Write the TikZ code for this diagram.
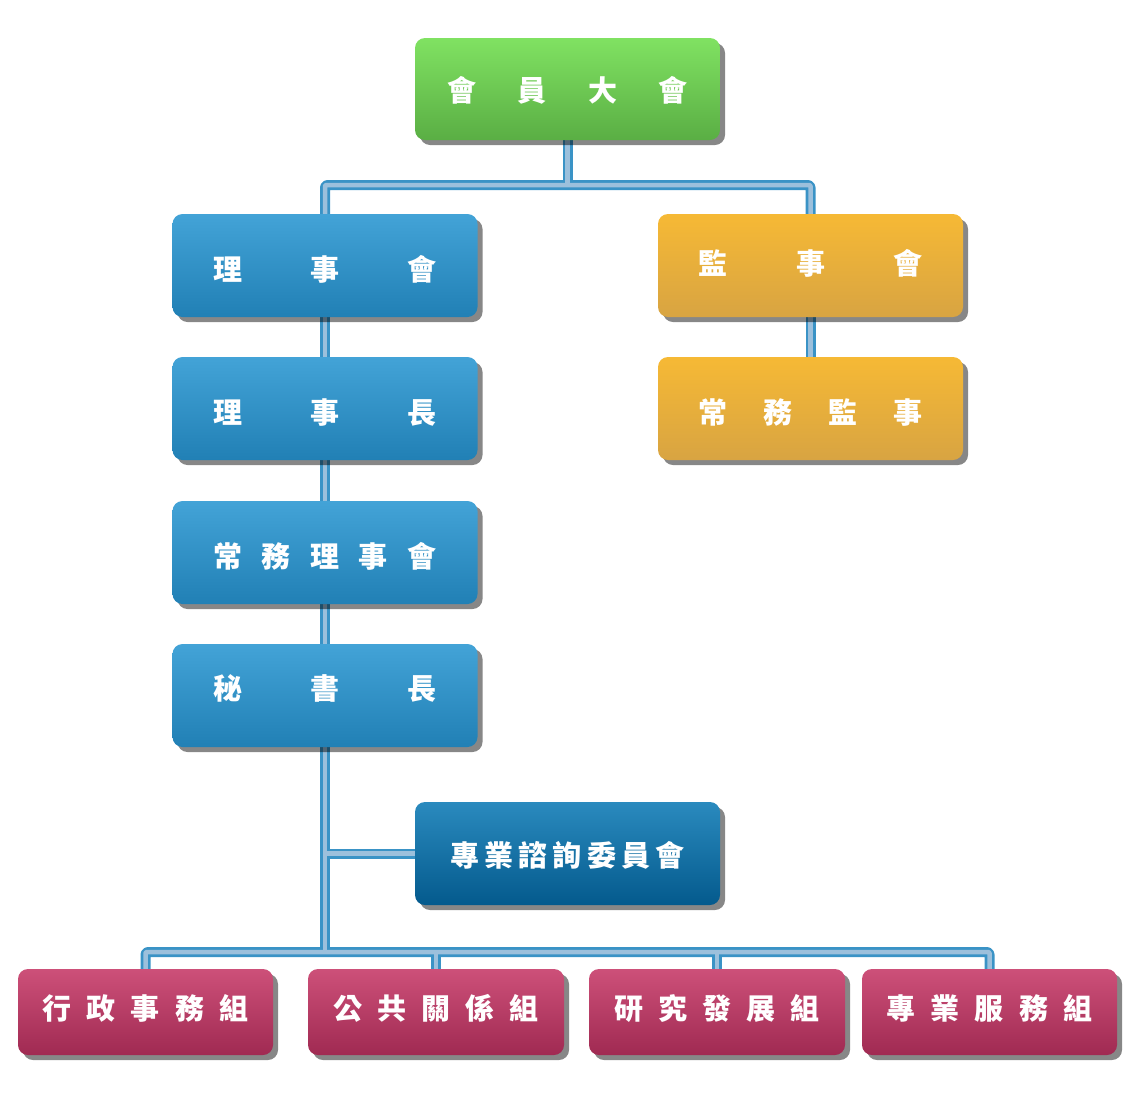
\documentclass[tikz,border=0pt]{standalone}
\usepackage{fontspec}
\setmainfont{Noto Sans CJK TC}
\usetikzlibrary{shadows}
\pgfdeclarelayer{background}
\pgfsetlayers{background,main}
\definecolor{gtop}{HTML}{80E262}
\definecolor{gbot}{HTML}{5AAE44}
\definecolor{btop}{HTML}{43A3D7}
\definecolor{bbot}{HTML}{2180B5}
\definecolor{otop}{HTML}{F6B935}
\definecolor{obot}{HTML}{D8A442}
\definecolor{dtop}{HTML}{2A8ABE}
\definecolor{dbot}{HTML}{045A8D}
\definecolor{ptop}{HTML}{CD5079}
\definecolor{pbot}{HTML}{A02A52}
\definecolor{lnout}{HTML}{3A93C6}
\definecolor{lnin}{HTML}{9CC0DC}
\newcommand\spr[2]{\makebox[#1pt]{#2}}
\tikzset{
  box/.style={rounded corners=10pt, inner sep=0pt, text=white,
    font=\fontsize{29}{29}\selectfont\bfseries, text depth=0pt,
    drop shadow={shadow xshift=5pt, shadow yshift=-5pt, fill=black, opacity=0.47}},
  th/.style={text height=#1pt},
  bigbox/.style={box, minimum width=305pt, minimum height=103pt},
  grpbox/.style={box, minimum width=255pt, minimum height=86pt, shading=axis, top color=ptop, bottom color=pbot, th=14},
  greenbox/.style={bigbox, top color=gtop, bottom color=gbot},
  bluebox/.style={bigbox, top color=btop, bottom color=bbot},
  orangebox/.style={bigbox, top color=otop, bottom color=obot},
  darkbox/.style={bigbox, top color=dtop, bottom color=dbot},
  connout/.style={draw=lnout, line width=10pt, rounded corners=2.5pt, line join=round},
  connin/.style={draw=lnin, line width=4.5pt, rounded corners=1pt, line join=round},
}
\begin{document}
\begin{tikzpicture}[x=1pt,y=-1pt]
\useasboundingbox (0,0) rectangle (1136,1101);
\node[greenbox, minimum height=102pt, th=24] (top) at (567.5,89) {\spr{240}{會\hfill 員\hfill 大\hfill 會}};
\node[bluebox, th=29] (l1) at (325,265.5) {\spr{223}{理\hfill 事\hfill 會}};
\node[orangebox, th=17] (r1) at (810.5,265.5) {\spr{224}{監\hfill 事\hfill 會}};
\node[bluebox, th=29] (l2) at (325,408.5) {\spr{223}{理\hfill 事\hfill 長}};
\node[orangebox, th=29] (r2) at (810.5,408.5) {\spr{224}{常\hfill 務\hfill 監\hfill 事}};
\node[bluebox, th=29] (l3) at (325,552.5) {\spr{223}{常\hfill 務\hfill 理\hfill 事\hfill 會}};
\node[bluebox, th=7] (l4) at (325,695.5) {\spr{223}{秘\hfill 書\hfill 長}};
\node[darkbox, th=25] (adv) at (567.5,853.5) {\spr{235}{專\hfill 業\hfill 諮\hfill 詢\hfill 委\hfill 員\hfill 會}};
\node[grpbox] (g1) at (145.5,1012) {\spr{206}{行\hfill 政\hfill 事\hfill 務\hfill 組}};
\node[grpbox, minimum width=256pt] (g2) at (436,1012) {\spr{206}{公\hfill 共\hfill 關\hfill 係\hfill 組}};
\node[grpbox, minimum width=256pt] (g3) at (717,1012) {\spr{206}{研\hfill 究\hfill 發\hfill 展\hfill 組}};
\node[grpbox] (g4) at (989.5,1012) {\spr{206}{專\hfill 業\hfill 服\hfill 務\hfill 組}};
\coordinate (j1) at (568,185);
\coordinate (j2) at (568,952);
\begin{pgfonlayer}{background}
\foreach \ly in {connout,connin}{
  \draw[\ly] (top.south) -- (top.south |- j1);
  \draw[\ly] (l1.north) -- (l1.north |- j1) -- (r1.north |- j1) -- (r1.north);
  \draw[\ly] (l1.south) -- (l2.north);
  \draw[\ly] (l2.south) -- (l3.north);
  \draw[\ly] (l3.south) -- (l4.north);
  \draw[\ly] (r1.south) -- (r2.north);
  \draw[\ly] (l4.south) -- (l4.south |- j2);
  \draw[\ly] (l4.south |- adv.west) -- (adv.west);
  \draw[\ly] (g1.north) -- (g1.north |- j2) -- (g4.north |- j2) -- (g4.north);
  \draw[\ly] (g2.north) -- (g2.north |- j2);
  \draw[\ly] (g3.north) -- (g3.north |- j2);
}
\end{pgfonlayer}
\end{tikzpicture}
\end{document}
